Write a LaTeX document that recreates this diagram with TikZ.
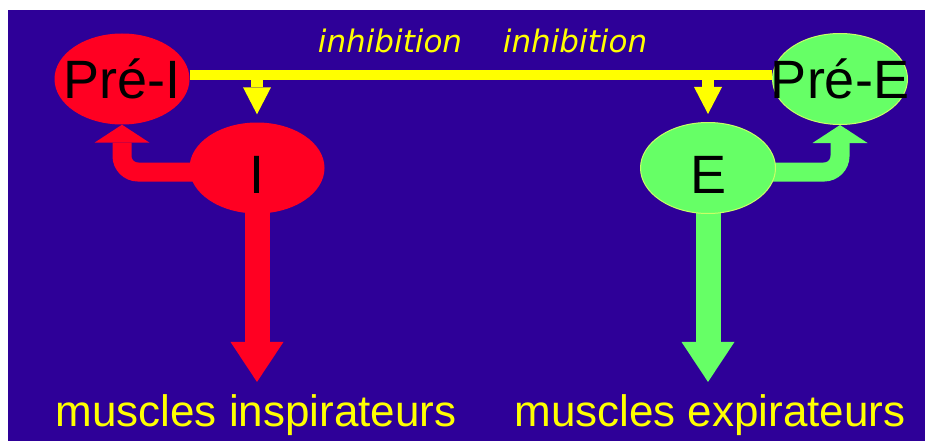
\documentclass[tikz,border=0pt]{standalone}
\usepackage{fontspec}
\setmainfont{Liberation Sans}
\newfontfamily\inhibfont{DejaVu Sans}
\usetikzlibrary{shapes.geometric,arrows.meta}
\pgfdeclarelayer{background}
\pgfsetlayers{background,main}

\begin{document}
\begin{tikzpicture}[x=1pt, y=-1pt]
    \definecolor{bgBlue}{HTML}{2E0098}
    \definecolor{inspRed}{HTML}{FF0022}
    \definecolor{expGreen}{HTML}{66FF66}
    \definecolor{rimGreen}{HTML}{C8FF66}
    \definecolor{inhibYellow}{HTML}{FFFF00}

    \tikzset{
        neuron/.style={ellipse, inner sep=0pt, minimum width=135pt, minimum height=91pt,
            font=\fontsize{54}{60}\selectfont, text=black},
        inspNeuron/.style={neuron, fill=inspRed},
        expNeuron/.style={neuron, fill=expGreen, draw=rimGreen, line width=1pt},
        muscleLabel/.style={inner sep=0pt, anchor=base, text=inhibYellow,
            font=\fontsize{44}{48}\selectfont},
        inhibLabel/.style={inner sep=0pt, anchor=base, text=inhibYellow,
            font=\inhibfont\itshape\fontsize{31}{36}\selectfont},
        inhibArrow/.style={draw=inhibYellow, line width=12pt, shorten >=8pt,
            -{Triangle[width=28pt,length=27pt,line width=0pt]}},
        loopArrow/.style={line width=19pt, rounded corners=16pt,
            -{Triangle[width=55pt,length=18pt,line width=0pt]}},
        motorArrow/.style={line width=25pt, shorten >=12pt,
            -{Triangle[width=53pt,length=40pt,line width=0pt]}}
    }

    \useasboundingbox (0,0) rectangle (925,441);

    % Neurons
    \node[inspNeuron] (PreI) at (122,79) {\makebox[0pt]{Pré-I}};
    \node[inspNeuron, text height=50pt] (I) at (257,168) {\makebox[0pt]{I}};
    \node[expNeuron] (PreE) at (840,79) {\makebox[0pt]{Pré-E}};
    \node[expNeuron, text height=50pt] (E) at (708,168) {\makebox[0pt]{E}};

    % Labels
    \node[inhibLabel] (inhibI) at (390,53) {inhibition};
    \node[inhibLabel] (inhibE) at (575,53) {inhibition};
    \node[muscleLabel] (inspi) at (256,426) {muscles inspirateurs};
    \node[muscleLabel] (expi) at (710,426) {muscles expirateurs};

    % Inhibition bar
    \coordinate (barL) at (PreI.east |- 0,75);
    \coordinate (barR) at (PreE.west |- 0,75);

    \begin{pgfonlayer}{background}
        % Background
        \fill[bgBlue] (8,10) rectangle (925,441);

        \draw[inhibYellow, line width=10pt] (barL) -- (barR);
        \draw[inhibArrow] (I.north |- barL) -- (I.north);
        \draw[inhibArrow] (E.north |- barL) -- (E.north);

        % Feedback to the pre-neurons
        \draw[loopArrow, inspRed] ([yshift=-4pt]I.center) -| (PreI.south);
        \draw[loopArrow, expGreen] ([yshift=-4pt]E.center) -| (PreE.south);

        % Motor output
        \draw[motorArrow, inspRed] (I.center) -- (I.center |- inspi.north);
        \draw[motorArrow, expGreen] (E.center) -- (E.center |- expi.north);
    \end{pgfonlayer}
\end{tikzpicture}
\end{document}
